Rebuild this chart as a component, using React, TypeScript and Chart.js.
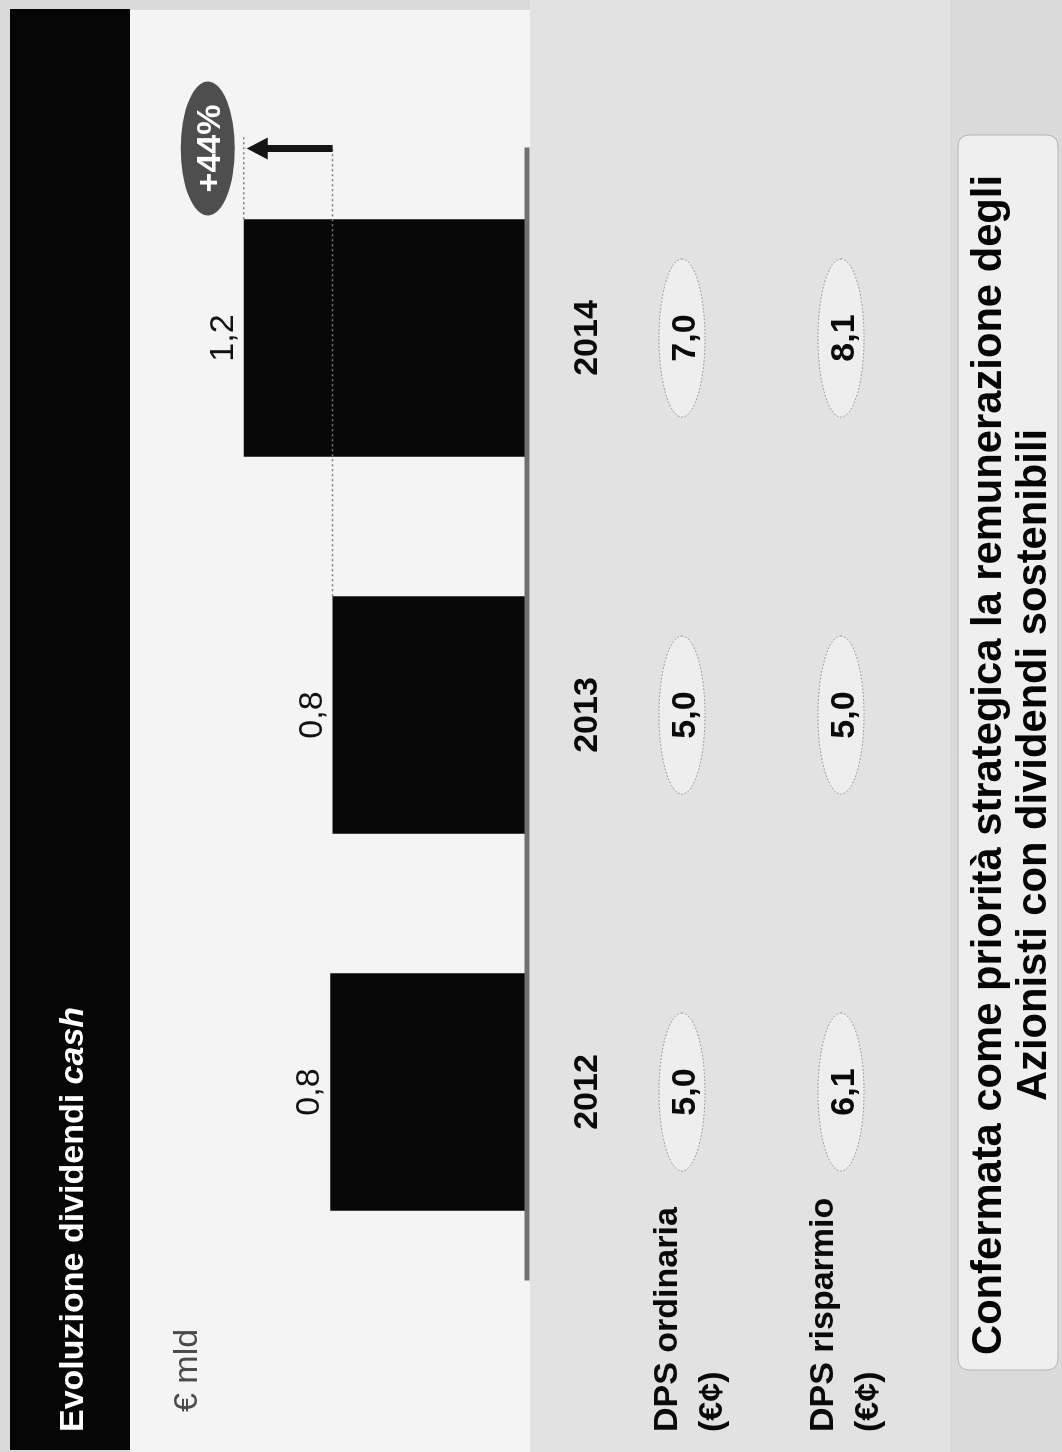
import React, { useEffect, useRef } from 'react';
import { Chart, registerables } from 'chart.js';

Chart.register(...registerables);

// ---------- data ----------
const categories = ['2012', '2013', '2014'];
const dividendValues = [0.82, 0.81, 1.18]; // € mld (labels show 1 decimal)
const dpsOrdinaria = [5.0, 5.0, 7.0];
const dpsRisparmio = [6.1, 5.0, 8.1];
const growthLabel = '+44%';
const titleMain = 'Evoluzione dividendi ';
const titleItalic = 'cash';
const unitLabel = '€ mld';
const rowLabelsOrd = ['DPS ordinaria', '(€¢)'];
const rowLabelsRis = ['DPS risparmio', '(€¢)'];
const footerLines = [
  'Confermata come priorità strategica la remunerazione degli',
  'Azionisti con dividendi sostenibili',
];

// ---------- layout (landscape slide, rotated -90° on the page) ----------
const W = 1452;
const H = 1062;
const FONT = '"Liberation Sans", Arial, Helvetica, sans-serif';
const fmt = (v: number) => v.toFixed(1).replace('.', ',');

function roundRectPath(ctx: CanvasRenderingContext2D, x: number, y: number, w: number, h: number, r: number) {
  ctx.beginPath();
  ctx.moveTo(x + r, y);
  ctx.lineTo(x + w - r, y);
  ctx.quadraticCurveTo(x + w, y, x + w, y + r);
  ctx.lineTo(x + w, y + h - r);
  ctx.quadraticCurveTo(x + w, y + h, x + w - r, y + h);
  ctx.lineTo(x + r, y + h);
  ctx.quadraticCurveTo(x, y + h, x, y + h - r);
  ctx.lineTo(x, y + r);
  ctx.quadraticCurveTo(x, y, x + r, y);
  ctx.closePath();
}

const slidePlugin = {
  id: 'slide',
  beforeDraw(chart: any) {
    const ctx: CanvasRenderingContext2D = chart.ctx;
    const xs = chart.scales.x;
    ctx.save();
    // backgrounds
    ctx.fillStyle = '#dadada';
    ctx.fillRect(0, 0, W, H);
    ctx.fillStyle = '#f4f4f4';
    ctx.fillRect(0, 130, 1442, 400);
    ctx.fillStyle = '#e2e2e2';
    ctx.fillRect(0, 530, W, 420);

    // title band
    ctx.fillStyle = '#060606';
    ctx.fillRect(2, 10, 1441, 120);
    ctx.fillStyle = '#ffffff';
    ctx.textAlign = 'left';
    ctx.textBaseline = 'alphabetic';
    ctx.font = `bold 34px ${FONT}`;
    ctx.fillText(titleMain, 20, 83);
    const tw = ctx.measureText(titleMain).width;
    ctx.font = `italic bold 34px ${FONT}`;
    ctx.fillText(titleItalic, 20 + tw, 83);

    // unit label
    ctx.fillStyle = '#4a4a4a';
    ctx.font = `34px ${FONT}`;
    ctx.fillText(unitLabel, 40, 197);

    // row labels
    ctx.fillStyle = '#0a0a0a';
    ctx.font = `bold 34px ${FONT}`;
    ctx.fillText(rowLabelsOrd[0], 20, 677);
    ctx.fillText(rowLabelsOrd[1], 20, 722);
    ctx.fillText(rowLabelsRis[0], 20, 833);
    ctx.fillText(rowLabelsRis[1], 20, 878);

    // DPS ellipses + values
    const rows: [number[], number][] = [
      [dpsOrdinaria, 682],
      [dpsRisparmio, 841],
    ];
    rows.forEach(([vals, cy]) => {
      vals.forEach((v, i) => {
        const cx = xs.getPixelForValue(i);
        ctx.beginPath();
        ctx.ellipse(cx, cy, 79, 23, 0, 0, Math.PI * 2);
        ctx.fillStyle = '#eeeeee';
        ctx.fill();
        ctx.setLineDash([1.5, 2]);
        ctx.lineWidth = 1;
        ctx.strokeStyle = '#8a8a8a';
        ctx.stroke();
        ctx.setLineDash([]);
        ctx.fillStyle = '#0a0a0a';
        ctx.font = `bold 34px ${FONT}`;
        ctx.textAlign = 'center';
        ctx.fillText(fmt(v), cx, cy + 13);
      });
    });

    // footer box
    roundRectPath(ctx, 82, 958, 1235, 100, 12);
    ctx.fillStyle = '#efefef';
    ctx.fill();
    ctx.lineWidth = 1;
    ctx.strokeStyle = '#b5b5b5';
    ctx.stroke();
    ctx.fillStyle = '#050505';
    ctx.font = `bold 42px ${FONT}`;
    ctx.textAlign = 'center';
    const w1 = ctx.measureText(footerLines[0]).width;
    const sx = 1180 / w1;
    const cu = 687;
    [1001, 1046].forEach((base, i) => {
      ctx.save();
      ctx.translate(cu, base);
      ctx.scale(sx, 1);
      ctx.fillText(footerLines[i], 0, 0);
      ctx.restore();
    });
    ctx.restore();
  },
  afterDatasetsDraw(chart: any) {
    const ctx: CanvasRenderingContext2D = chart.ctx;
    const xs = chart.scales.x;
    const ys = chart.scales.y;
    const area = chart.chartArea;
    const meta = chart.getDatasetMeta(0);
    ctx.save();

    // baseline
    const y0 = ys.getPixelForValue(0);
    ctx.strokeStyle = '#707070';
    ctx.lineWidth = 5;
    ctx.beginPath();
    ctx.moveTo(area.left, y0);
    ctx.lineTo(area.right + 2, y0);
    ctx.stroke();

    // value labels
    ctx.fillStyle = '#111111';
    ctx.font = `34px ${FONT}`;
    ctx.textAlign = 'center';
    ctx.textBaseline = 'alphabetic';
    meta.data.forEach((bar: any, i: number) => {
      ctx.fillText(fmt(dividendValues[i]), bar.x, bar.y - 11);
    });

    // category labels
    ctx.font = `bold 34px ${FONT}`;
    ctx.fillStyle = '#0a0a0a';
    categories.forEach((c, i) => {
      ctx.fillText(c, xs.getPixelForValue(i), 597);
    });

    // reference dotted lines + growth arrow
    const arrowX = area.right + 1;
    const yFrom = ys.getPixelForValue(dividendValues[1]);
    const yTo = ys.getPixelForValue(dividendValues[2]);
    const bar2013 = meta.data[1];
    const bar2014 = meta.data[2];
    ctx.setLineDash([2, 3]);
    ctx.lineWidth = 1.5;
    ctx.strokeStyle = '#7a7a7a';
    ctx.beginPath();
    ctx.moveTo(bar2013.x + bar2013.width / 2, yFrom);
    ctx.lineTo(arrowX, yFrom);
    ctx.moveTo(bar2014.x + bar2014.width / 2, yTo);
    ctx.lineTo(arrowX + 12, yTo);
    ctx.stroke();
    ctx.setLineDash([]);

    const tip = yTo + 3;
    ctx.strokeStyle = '#141414';
    ctx.lineWidth = 7;
    ctx.beginPath();
    ctx.moveTo(arrowX, yFrom);
    ctx.lineTo(arrowX, tip + 18);
    ctx.stroke();
    ctx.fillStyle = '#141414';
    ctx.beginPath();
    ctx.moveTo(arrowX, tip);
    ctx.lineTo(arrowX - 11, tip + 21);
    ctx.lineTo(arrowX + 11, tip + 21);
    ctx.closePath();
    ctx.fill();

    // growth bubble
    const cy = yTo - 36;
    ctx.beginPath();
    ctx.ellipse(arrowX, cy, 67, 27, 0, 0, Math.PI * 2);
    ctx.fillStyle = '#4e4e4e';
    ctx.fill();
    ctx.fillStyle = '#ffffff';
    ctx.font = `bold 34px ${FONT}`;
    ctx.fillText(growthLabel, arrowX, cy + 12);
    ctx.restore();
  },
};

export default function App() {
  const ref = useRef<HTMLCanvasElement>(null);
  useEffect(() => {
    document.documentElement.style.overflow = 'hidden';
    document.body.style.margin = '0';
    document.body.style.overflow = 'hidden';
    const chart = new Chart(ref.current as HTMLCanvasElement, {
      type: 'bar',
      data: {
        labels: categories,
        datasets: [
          {
            data: dividendValues,
            backgroundColor: '#080808',
            borderWidth: 0,
            barPercentage: 0.63,
            categoryPercentage: 1.0,
          },
        ],
      },
      options: {
        responsive: false,
        animation: false,
        devicePixelRatio: 1,
        layout: { padding: { left: 171.5, right: 149.5, top: 143, bottom: 535 } },
        scales: {
          x: { display: false, offset: true },
          y: { display: false, min: 0, max: 1.6 },
        },
        plugins: { legend: { display: false }, tooltip: { enabled: false }, title: { display: false } },
      },
      plugins: [slidePlugin],
    } as any);
    return () => chart.destroy();
  }, []);
  return (
    <div
      style={{
        position: 'absolute',
        left: 0,
        top: 0,
        width: W,
        height: H,
        transformOrigin: '0 0',
        transform: `translate(0px, ${W}px) rotate(-90deg)`,
      }}
    >
      <canvas ref={ref} width={W} height={H} style={{ display: 'block', width: W, height: H }} />
    </div>
  );
}
